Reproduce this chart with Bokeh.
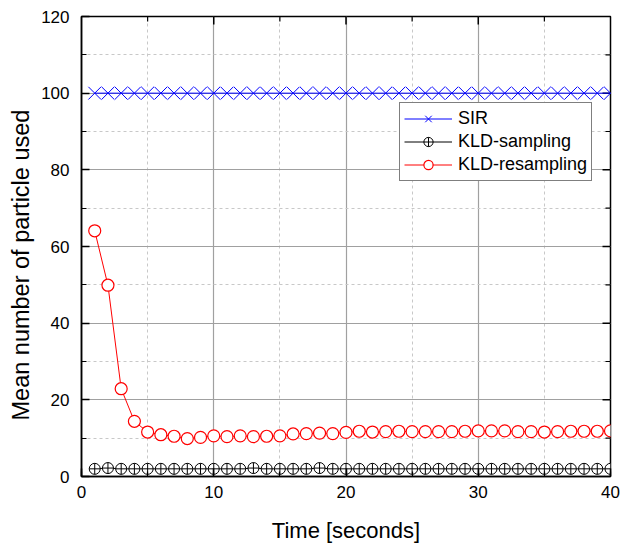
from bokeh.plotting import figure
from bokeh.models import Range1d, Legend, LegendItem, SingleIntervalTicker, Title
from bokeh.embed import file_html
from bokeh.resources import INLINE
import math

# ---- data ----
time_s = [1, 2, 3, 4, 5, 6, 7, 8, 9, 10, 11, 12, 13, 14, 15, 16, 17, 18, 19, 20,
          21, 22, 23, 24, 25, 26, 27, 28, 29, 30, 31, 32, 33, 34, 35, 36, 37, 38, 39, 40]
sir = [100, 100, 100, 100, 100, 100, 100, 100, 100, 100,
       100, 100, 100, 100, 100, 100, 100, 100, 100, 100,
       100, 100, 100, 100, 100, 100, 100, 100, 100, 100,
       100, 100, 100, 100, 100, 100, 100, 100, 100, 100]
kld_sampling = [2.0, 2.2, 2.0, 2.0, 2.0, 2.0, 2.0, 2.0, 2.0, 2.0,
                2.0, 2.0, 2.2, 2.0, 2.0, 2.0, 2.0, 2.2, 2.0, 2.0,
                2.0, 2.0, 2.0, 2.0, 2.0, 2.0, 2.0, 2.0, 2.0, 2.0,
                2.0, 2.0, 2.0, 2.0, 2.0, 2.0, 2.0, 2.0, 2.0, 2.0]
kld_resampling = [64.1, 49.9, 22.9, 14.4, 11.6, 10.9, 10.5, 9.9, 10.2, 10.6,
                  10.4, 10.6, 10.4, 10.5, 10.6, 11.1, 11.2, 11.3, 11.2, 11.5,
                  11.8, 11.6, 11.7, 11.8, 11.7, 11.7, 11.7, 11.7, 11.8, 11.9,
                  11.9, 11.9, 11.7, 11.7, 11.6, 11.7, 11.8, 11.8, 11.8, 11.9]
series_labels = ["SIR", "KLD-sampling", "KLD-resampling"]
x_label = "Time [seconds]"
y_label = "Mean number of particle used"

# tick values for the mirrored (top / right) tick marks
x_major_ticks = [10, 20, 30]
x_minor_ticks = [5, 15, 25, 35]
y_major_ticks = [20, 40, 60, 80, 100]
y_minor_ticks = [10, 30, 50, 70, 90, 110]
X_MAX = 40
Y_MAX = 120

FONT = "Liberation Sans"

p = figure(width=620, height=546, x_range=Range1d(0, X_MAX), y_range=Range1d(0, Y_MAX),
           output_backend="svg", toolbar_location=None,
           min_border_left=80, min_border_right=10, min_border_top=16, min_border_bottom=70)
p.background_fill_color = "white"
p.border_fill_color = "white"
p.outline_line_color = "black"
p.outline_line_width = 1.5

p.xaxis.ticker = SingleIntervalTicker(interval=10, num_minor_ticks=2)
p.yaxis.ticker = SingleIntervalTicker(interval=20, num_minor_ticks=2)

for ax in (p.xaxis[0], p.yaxis[0]):
    ax.axis_line_color = "black"
    ax.axis_line_width = 1.5
    ax.major_tick_line_color = "black"
    ax.minor_tick_line_color = "black"
    ax.major_tick_line_width = 1.5
    ax.minor_tick_line_width = 1.2
    ax.major_tick_in = 8
    ax.major_tick_out = 0
    ax.minor_tick_in = 5
    ax.minor_tick_out = 0
    ax.major_label_text_font = FONT
    ax.major_label_text_color = "black"
    ax.major_label_text_font_size = "17px"
    ax.axis_label_text_font = FONT
    ax.axis_label_text_font_style = "normal"
    ax.axis_label_text_color = "black"

p.xaxis.axis_label = x_label
p.xaxis.axis_label_text_font_size = "22px"
p.xaxis.major_label_standoff = 9
p.xaxis.axis_label_standoff = 17
p.yaxis.major_label_standoff = 12

# y-axis label as a side title (placed slightly below centre, as in the reference)
ytitle = Title(text=y_label, align="left", offset=56, text_font=FONT,
               text_font_size="23.5px", text_font_style="normal", text_color="black")
p.add_layout(ytitle, "left")

for g in (p.xgrid[0], p.ygrid[0]):
    g.grid_line_color = "#a0a0a0"
    g.grid_line_width = 1.2
    g.minor_grid_line_color = "#c8c8c8"
    g.minor_grid_line_dash = "3 3"
    g.minor_grid_line_width = 1

# mirrored inward ticks on the top and right frame edges (clipped to the frame)
p.scatter([X_MAX] * len(y_major_ticks), y_major_ticks, marker="dash", size=16,
          line_color="black", line_width=1.5)
p.scatter([X_MAX] * len(y_minor_ticks), y_minor_ticks, marker="dash", size=10,
          line_color="black", line_width=1.2)
p.scatter(x_major_ticks, [Y_MAX] * len(x_major_ticks), marker="dash", size=16, angle=math.pi / 2,
          line_color="black", line_width=1.5)
p.scatter(x_minor_ticks, [Y_MAX] * len(x_minor_ticks), marker="dash", size=10, angle=math.pi / 2,
          line_color="black", line_width=1.2)

# ---- series ----
l1 = p.line(time_s, sir, line_color="#0000ff", line_width=1)
s1 = p.scatter(time_s, sir, marker="x", size=18, line_color="#0000ff", line_width=1)

l2 = p.line(time_s, kld_sampling, line_color="black", line_width=1)
s2 = p.scatter(time_s, kld_sampling, marker="circle_cross", size=11,
               line_color="black", fill_color="white", line_width=1)

l3 = p.line(time_s, kld_resampling, line_color="#ff0000", line_width=1)
s3 = p.scatter(time_s, kld_resampling, marker="circle", size=12,
               line_color="#ff0000", fill_color="white", line_width=1.2)

legend = Legend(items=[
    LegendItem(label=series_labels[0], renderers=[l1, s1]),
    LegendItem(label=series_labels[1], renderers=[l2, s2]),
    LegendItem(label=series_labels[2], renderers=[l3, s3]),
])
legend.location = (318, 295)
legend.label_text_font = FONT
legend.label_text_font_size = "18px"
legend.label_text_color = "black"
legend.border_line_color = "black"
legend.border_line_width = 1
legend.background_fill_color = "white"
legend.background_fill_alpha = 1
legend.padding = 4
legend.margin = 0
legend.spacing = 0
legend.label_height = 23
legend.glyph_height = 23
legend.glyph_width = 48
legend.label_standoff = 6
p.add_layout(legend)

open("out.html", "w").write(file_html(p, INLINE))
